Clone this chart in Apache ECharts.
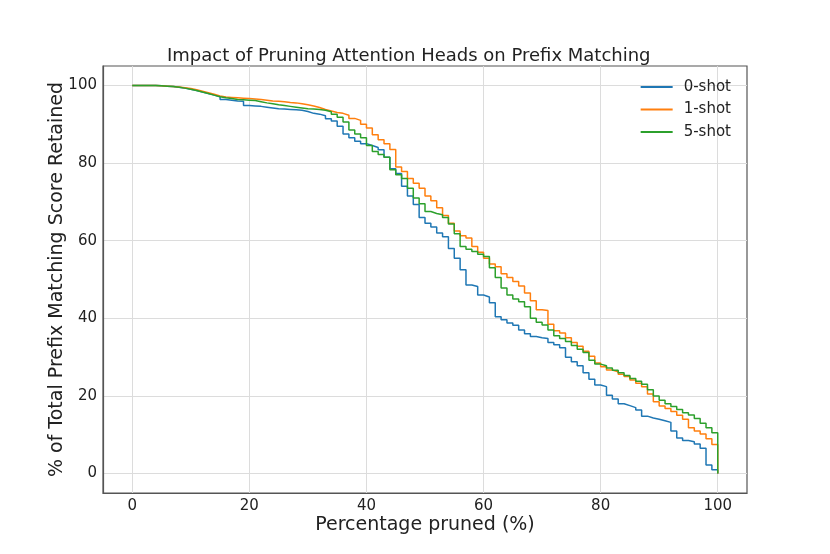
<!DOCTYPE html>
<html>
<head>
<meta charset="utf-8">
<script src="https://cdn.jsdelivr.net/npm/echarts@6/dist/echarts.min.js"></script>
<style>
  html, body { margin: 0; padding: 0; background: #fff; }
  #chart { width: 830px; height: 554px; }
</style>
</head>
<body>
<div id="chart"></div>
<script>
// percentage of heads pruned (0..100, step 1)
var pruned = [];
for (var i = 0; i <= 100; i++) pruned.push(i);

// % of prefix matching score retained
var zeroShot = [
  100, 100, 100, 100, 99.9, 99.8, 99.7, 99.5, 99.3, 99.0,
  98.7, 98.3, 97.9, 97.5, 97.1, 96.4, 96.2, 96.0, 95.9, 94.8,
  94.7, 94.6, 94.4, 94.2, 94.0, 93.9, 93.8, 93.7, 93.6, 93.3,
  92.8, 92.6, 92.2, 91.4, 90.8, 89.5, 87.5, 86.5, 85.6, 85.0,
  84.5, 84.0, 83.4, 81.5, 78.5, 77.3, 74.0, 71.5, 69.3, 66.0,
  64.5, 63.5, 62.0, 61.0, 58.0, 55.5, 52.5, 48.6, 48.2, 46.0,
  45.5, 44.0, 40.4, 39.6, 38.8, 38.2, 37.0, 36.0, 35.3, 35.0,
  34.8, 33.8, 33.2, 32.4, 30.0, 28.8, 27.8, 26.0, 24.3, 22.8,
  22.4, 20.2, 19.2, 18.0, 17.5, 17.0, 16.4, 14.8, 14.3, 14.0,
  13.6, 13.2, 11.0, 9.2, 8.5, 8.2, 7.6, 6.5, 2.2, 1.0,
  0
];
var oneShot = [
  100, 100, 100, 100, 99.9, 99.8, 99.7, 99.6, 99.4, 99.2,
  98.9, 98.5, 98.1, 97.7, 97.3, 97.0, 96.9, 96.8, 96.7, 96.6,
  96.5, 96.4, 96.2, 96.0, 95.9, 95.8, 95.6, 95.5, 95.3, 95.0,
  94.7, 94.3, 93.8, 93.4, 93.0, 92.8, 92.3, 91.5, 91.0, 90.0,
  89.0, 87.3, 86.0, 85.0, 83.5, 79.0, 77.8, 76.0, 74.8, 73.5,
  71.5, 70.3, 68.5, 66.5, 64.5, 62.5, 61.3, 60.7, 58.5, 57.0,
  55.5, 54.0, 53.3, 51.5, 50.5, 49.5, 48.3, 46.5, 44.5, 42.2,
  42.0, 38.5, 36.8, 36.2, 35.0, 33.8, 32.8, 31.5, 30.2, 28.5,
  27.5, 26.7, 26.2, 25.6, 25.0, 24.1, 23.3, 22.4, 20.5, 18.5,
  17.4, 16.8, 16.0, 15.0, 14.0, 11.8, 11.0, 10.2, 9.0, 7.5,
  0
];
var fiveShot = [
  100, 100, 100, 100, 99.9, 99.8, 99.7, 99.5, 99.3, 99.0,
  98.7, 98.3, 97.9, 97.5, 97.1, 96.8, 96.6, 96.4, 96.3, 96.2,
  96.1, 95.8, 95.5, 95.3, 95.0, 94.8, 94.6, 94.4, 94.2, 94.0,
  93.9, 93.8, 93.6, 93.2, 92.6, 91.8, 90.6, 88.5, 87.5, 86.5,
  84.5, 83.0, 82.2, 81.5, 78.3, 77.0, 76.0, 73.5, 71.0, 69.5,
  67.5, 67.0, 66.7, 66.0, 64.3, 61.8, 58.5, 57.8, 57.2, 56.5,
  55.9, 53.0, 50.5, 47.8, 46.0, 45.0, 44.3, 43.0, 40.0, 39.0,
  38.3, 37.0, 35.5, 34.8, 34.0, 33.0, 32.0, 31.2, 29.2, 28.2,
  27.8, 27.2, 26.6, 26.0, 25.3, 24.5, 23.8, 23.0, 21.6, 20.0,
  18.9, 18.0, 17.3, 16.5, 15.7, 15.1, 14.2, 13.0, 11.8, 10.5,
  0
];

var seriesNames = ['0-shot', '1-shot', '5-shot'];
var xTicks = [0, 20, 40, 60, 80, 100];
var yTicks = [0, 20, 40, 60, 80, 100];

function pairs(ys) {
  var out = [];
  for (var i = 0; i < ys.length; i++) out.push([pruned[i], ys[i]]);
  return out;
}

var font = 'DejaVu Sans';
var chart = echarts.init(document.getElementById('chart'));

function lineSeries(name, ys, color) {
  return {
    name: name,
    type: 'line',
    step: 'end',
    showSymbol: false,
    animation: false,
    data: pairs(ys),
    itemStyle: { color: color },
    lineStyle: { color: color, width: 1.5 }
  };
}

chart.setOption({
  backgroundColor: '#fff',
  animation: false,
  textStyle: { fontFamily: font },
  title: {
    text: 'Impact of Pruning Attention Heads on Prefix Matching',
    left: 162,
    top: 42,
    textStyle: { fontFamily: font, fontSize: 18, fontWeight: 'normal', color: '#222' }
  },
  legend: {
    orient: 'vertical',
    right: 94,
    top: 74,
    itemWidth: 32,
    itemHeight: 2,
    itemGap: 6.5,
    icon: 'rect',
    data: seriesNames,
    textStyle: { fontFamily: font, fontSize: 15, color: '#222', lineHeight: 16, padding: [0, 0, 0, 6] }
  },
  grid: {
    left: 103,
    right: 83,
    top: 66,
    bottom: 61,
    show: true,
    borderColor: '#555',
    borderWidth: 1.2,
    containLabel: false
  },
  xAxis: {
    type: 'value',
    min: -5,
    max: 105,
    name: 'Percentage pruned (%)',
    nameLocation: 'middle',
    nameGap: 23,
    nameMoveOverlap: false,
    nameTextStyle: { fontFamily: font, fontSize: 19, color: '#222' },
    axisLine: { show: true, onZero: false, lineStyle: { color: '#555', width: 1.2 } },
    axisTick: { show: false, customValues: xTicks },
    axisLabel: { customValues: xTicks, margin: 6, fontFamily: font, fontSize: 15, color: '#222' },
    splitLine: { show: true, lineStyle: { color: '#dcdcdc', width: 1 } }
  },
  yAxis: {
    type: 'value',
    min: -5,
    max: 105,
    name: '% of Total Prefix Matching Score Retained',
    nameLocation: 'middle',
    nameGap: 36,
    nameMoveOverlap: false,
    nameTextStyle: { fontFamily: font, fontSize: 19, color: '#222' },
    axisLine: { show: true, onZero: false, lineStyle: { color: '#555', width: 1.2 } },
    axisTick: { show: false, customValues: yTicks },
    axisLabel: { customValues: yTicks, margin: 6, fontFamily: font, fontSize: 15, color: '#222' },
    splitLine: { show: true, lineStyle: { color: '#dcdcdc', width: 1 } }
  },
  series: [
    lineSeries(seriesNames[0], zeroShot, '#1f77b4'),
    lineSeries(seriesNames[1], oneShot, '#ff7f0e'),
    lineSeries(seriesNames[2], fiveShot, '#2ca02c')
  ]
});
</script>
</body>
</html>
